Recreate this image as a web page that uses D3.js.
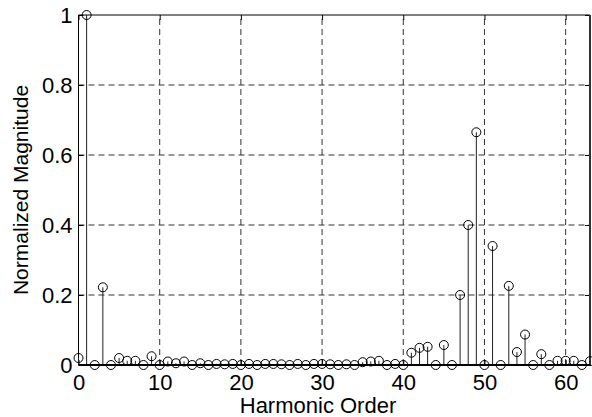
<!DOCTYPE html>
<html lang="en">
<head>
  <meta charset="UTF-8">
  <title>Harmonic Spectrum</title>
  <script src="https://d3js.org/d3.v7.min.js"></script>
  <style>
    body { margin: 0; background: #fff; }
    text { font-family: "Liberation Sans", Arial, sans-serif; fill: #000; }
    .grid line { stroke: #333; stroke-dasharray: 6,4; stroke-width: 1; }
  </style>
</head>
<body>
<svg id="chart" width="592" height="417"></svg>

<script>
// harmonic orders 0..63 and their normalized magnitudes
const orders = d3.range(0, 64);
const magnitudes = [
  0.020, 1.000, 0.000, 0.222, 0.000, 0.020, 0.012, 0.012, 0.000, 0.025,
  0.000, 0.010, 0.005, 0.010, 0.000, 0.005, 0.000, 0.003, 0.002, 0.003,
  0.000, 0.003, 0.000, 0.003, 0.003, 0.002, 0.000, 0.003, 0.000, 0.003,
  0.003, 0.002, 0.000, 0.002, 0.000, 0.008, 0.010, 0.012, 0.000, 0.003,
  0.000, 0.035, 0.049, 0.052, 0.000, 0.057, 0.000, 0.200, 0.400, 0.665,
  0.000, 0.340, 0.000, 0.226, 0.037, 0.087, 0.000, 0.031, 0.000, 0.012,
  0.012, 0.012, 0.000, 0.011
];
const xTicks = [0, 10, 20, 30, 40, 50, 60];
const yTicks = [0, 0.2, 0.4, 0.6, 0.8, 1];

const svg = d3.select("#chart");
const margin = { left: 78.5, right: 2, top: 15, bottom: 52 };
const width = 592, height = 417;

const x = d3.scaleLinear().domain([0, 63]).range([margin.left, width - margin.right]);
const y = d3.scaleLinear().domain([0, 1]).range([height - margin.bottom, margin.top]);

// dashed grid
const grid = svg.append("g").attr("class", "grid");
grid.selectAll(".vx").data(xTicks.filter(d => d > 0)).enter().append("line")
    .attr("x1", d => x(d)).attr("x2", d => x(d))
    .attr("y1", y(0)).attr("y2", y(1));
grid.selectAll(".hy").data(yTicks.filter(d => d > 0 && d < 1)).enter().append("line")
    .attr("x1", x(0)).attr("x2", x(63))
    .attr("y1", d => y(d)).attr("y2", d => y(d));

// axes (ticks pointing inward, MATLAB style)
const xAxis = d3.axisBottom(x).tickValues(xTicks).tickSize(-5).tickPadding(9).tickFormat(d3.format("d"));
const yAxis = d3.axisLeft(y).tickValues(yTicks).tickSize(-5).tickPadding(6).tickFormat(d => d === 0 || d === 1 ? d : d3.format(".1f")(d));

const gx = svg.append("g").attr("transform", `translate(0,${y(0)})`).call(xAxis);
const gy = svg.append("g").attr("transform", `translate(${x(0)},0)`).call(yAxis);
[gx, gy].forEach(g => {
  g.select(".domain").remove();
  g.selectAll(".tick line").attr("stroke", "#000");
  g.selectAll(".tick text").style("font-size", "22px").attr("fill", "#000");
});

// top & right ticks
svg.append("g").attr("transform", `translate(0,${y(1)})`)
  .call(d3.axisTop(x).tickValues(xTicks).tickSize(-5).tickFormat(""))
  .call(g => g.select(".domain").remove())
  .selectAll(".tick line").attr("stroke", "#000");
svg.append("g").attr("transform", `translate(${x(63)},0)`)
  .call(d3.axisRight(y).tickValues(yTicks).tickSize(-5).tickFormat(""))
  .call(g => g.select(".domain").remove())
  .selectAll(".tick line").attr("stroke", "#000");

// box
svg.append("line").attr("x1", x(0)).attr("x2", x(63)).attr("y1", y(1)).attr("y2", y(1))
    .attr("stroke", "#000").attr("stroke-width", 1);
svg.append("line").attr("x1", x(63)).attr("x2", x(63)).attr("y1", y(0)).attr("y2", y(1))
    .attr("stroke", "#333").attr("stroke-width", 2);
svg.append("line").attr("x1", x(0)).attr("x2", x(0)).attr("y1", y(0)).attr("y2", y(1))
    .attr("stroke", "#000").attr("stroke-width", 1);

const data = orders.map((o, i) => ({ order: o, value: magnitudes[i] }));

// stems
svg.append("g").selectAll("line").data(data).enter().append("line")
    .attr("x1", d => x(d.order)).attr("x2", d => x(d.order))
    .attr("y1", y(0)).attr("y2", d => y(d.value))
    .attr("stroke", "#222").attr("stroke-width", 1);

// baseline
svg.append("line").attr("x1", x(0)).attr("x2", x(63)).attr("y1", y(0)).attr("y2", y(0))
    .attr("stroke", "#000").attr("stroke-width", 2);

// markers
svg.append("g").selectAll("circle").data(data).enter().append("circle")
    .attr("cx", d => x(d.order)).attr("cy", d => y(d.value)).attr("r", 4.5)
    .attr("fill", "none").attr("stroke", "#000").attr("stroke-width", 1);

// labels
svg.append("text").attr("x", 318).attr("y", 413)
    .attr("text-anchor", "middle").style("font-size", "22px").text("Harmonic Order");
svg.append("text").attr("transform", `translate(28,${(y(0) + y(1)) / 2}) rotate(-90)`)
    .attr("text-anchor", "middle").style("font-size", "21px").text("Normalized Magnitude");
</script>
</body>
</html>
